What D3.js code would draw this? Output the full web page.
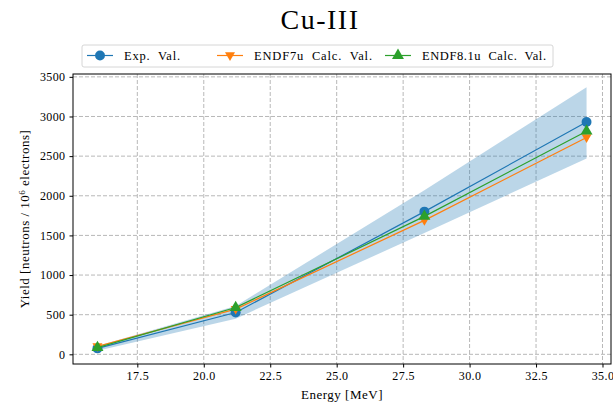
<!DOCTYPE html>
<html>
<head>
<meta charset="utf-8">
<script src="https://cdn.jsdelivr.net/npm/d3@7"></script>
<style>
  body { margin: 0; background: #fff; }
  text { font-family: "Liberation Serif", "DejaVu Serif", serif; fill: #000; }
</style>
</head>
<body>
<svg id="chart"></svg>
<script>
// data
const energy = [16.0, 21.2, 28.3, 34.4];
const expVal = [75, 527, 1800, 2930];
const endf7Val = [100, 570, 1690, 2735];
const endf81Val = [85, 590, 1740, 2815];
const bandLow = [45, 450, 1530, 2470];
const bandHigh = [105, 610, 2070, 3370];
const xTicks = [17.5, 20.0, 22.5, 25.0, 27.5, 30.0, 32.5, 35.0];
const yTicks = [0, 500, 1000, 1500, 2000, 2500, 3000, 3500];

const width = 613;
const height = 405;
const margin = { top: 74, right: 2, bottom: 41, left: 73 };

const svg = d3.select("#chart").attr("width", width).attr("height", height);

// Escalas
const xScale = d3.scaleLinear().domain([15.08, 35.32]).range([margin.left, width - margin.right]);
const yScale = d3.scaleLinear().domain([-122, 3536]).range([height - margin.bottom, margin.top]);

// grid
const grid = svg.append("g").attr("stroke", "#b0b0b0").attr("stroke-width", 0.9).attr("stroke-dasharray", "4,2");
grid.selectAll(".gx").data(xTicks).enter().append("line")
  .attr("x1", (d) => xScale(d)).attr("x2", (d) => xScale(d))
  .attr("y1", margin.top).attr("y2", height - margin.bottom);
grid.selectAll(".gy").data(yTicks).enter().append("line")
  .attr("x1", margin.left).attr("x2", width - margin.right)
  .attr("y1", (d) => yScale(d)).attr("y2", (d) => yScale(d));

// uncertainty band
const bandData = energy.map((e, i) => ({ e, lo: bandLow[i], hi: bandHigh[i] }));
svg.append("path")
  .datum(bandData)
  .attr("fill", "#1f77b4")
  .attr("fill-opacity", 0.3)
  .attr("d", d3.area().x((d) => xScale(d.e)).y0((d) => yScale(d.lo)).y1((d) => yScale(d.hi)));

const series = [
  { name: "Exp.  Val.", values: expVal, color: "#1f77b4", marker: "circle", len: 56 },
  { name: "ENDF7u  Calc.  Val.", values: endf7Val, color: "#ff7f0e", marker: "down", len: 118 },
  { name: "ENDF8.1u  Calc.  Val.", values: endf81Val, color: "#2ca02c", marker: "up", len: 124 },
];

const symbolFor = (m) => {
  if (m === "circle") return d3.symbol().type(d3.symbolCircle).size(78)();
  if (m === "up") return d3.symbol().type(d3.symbolTriangle).size(62)();
  return "M-5,-3.2L5,-3.2L0,5.4Z";
};

const line = d3.line().x((d) => xScale(d[0])).y((d) => yScale(d[1]));

series.forEach((s) => {
  const pts = energy.map((e, i) => [e, s.values[i]]);
  svg.append("path").datum(pts)
    .attr("fill", "none").attr("stroke", s.color).attr("stroke-width", 1.2)
    .attr("d", line);
  svg.selectAll(null).data(pts).enter().append("path")
    .attr("d", symbolFor(s.marker))
    .attr("fill", s.color)
    .attr("transform", (d) => `translate(${xScale(d[0])},${yScale(d[1])})`);
});

// Eixos
const xAxis = d3.axisBottom(xScale).tickValues(xTicks).tickFormat(d3.format(".1f")).tickSizeOuter(0).tickSize(3.5).tickPadding(4);
const yAxis = d3.axisLeft(yScale).tickValues(yTicks).tickFormat(d3.format("d")).tickSizeOuter(0).tickSize(3.5).tickPadding(4);

const gx = svg.append("g").attr("transform", `translate(0, ${height - margin.bottom})`).call(xAxis);
const gy = svg.append("g").attr("transform", `translate(${margin.left}, 0)`).call(yAxis);
[gx, gy].forEach((g) => {
  g.select(".domain").remove();
  g.selectAll("text").style("font-size", "12px").style("letter-spacing", "0.4px")
    .style("font-family", '"Liberation Serif", serif');
  g.selectAll("line").attr("stroke", "#000");
});

// frame
svg.append("rect")
  .attr("x", margin.left).attr("y", margin.top)
  .attr("width", width - margin.right - margin.left)
  .attr("height", height - margin.bottom - margin.top)
  .attr("fill", "none").attr("stroke", "#000").attr("stroke-width", 1);

// title and labels
svg.append("text").attr("x", 320).attr("y", 29).attr("text-anchor", "middle")
  .style("font-size", "28px").style("letter-spacing", "1.5px").text("Cu-III");

svg.append("text").attr("x", (margin.left + width - margin.right) / 2).attr("y", 399)
  .attr("text-anchor", "middle").style("font-size", "13px").style("letter-spacing", "0.5px")
  .text("Energy [MeV]");

const yl = svg.append("text")
  .attr("transform", `translate(29, ${(margin.top + height - margin.bottom) / 2}) rotate(-90)`)
  .attr("text-anchor", "middle").style("font-size", "13px").style("letter-spacing", "0.5px");
yl.append("tspan").text("Yield [neutrons / 10");
yl.append("tspan").attr("dy", -4).style("font-size", "9px").text("6");
yl.append("tspan").attr("dy", 4).text(" electrons]");

// legend
const legend = svg.append("g");
legend.append("rect")
  .attr("x", 82).attr("y", 45).attr("width", 471).attr("height", 22).attr("rx", 2)
  .attr("fill", "#fff").attr("fill-opacity", 0.8).attr("stroke", "#ccc").attr("stroke-width", 0.8);
const legendX = [100, 230, 398];
series.forEach((s, i) => {
  const cx = legendX[i];
  legend.append("line").attr("x1", cx - 13).attr("x2", cx + 13).attr("y1", 55.5).attr("y2", 55.5)
    .attr("stroke", s.color).attr("stroke-width", 1.2);
  legend.append("path").attr("d", symbolFor(s.marker)).attr("fill", s.color)
    .attr("transform", `translate(${cx},55.5)`);
  legend.append("text").attr("x", cx + 24).attr("y", 59.5)
    .attr("textLength", s.len).attr("lengthAdjust", "spacing")
    .style("font-size", "12.5px").style("white-space", "pre").text(s.name);
});
</script>
</body>
</html>
